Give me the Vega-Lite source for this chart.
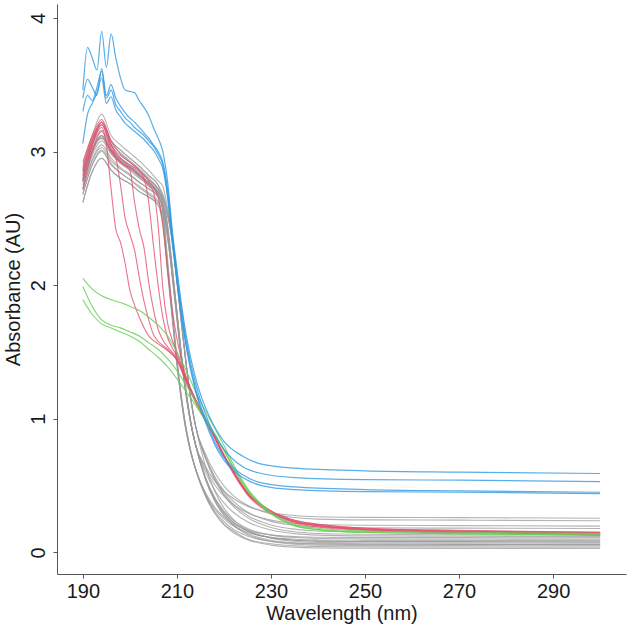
{
"$schema":"https://vega.github.io/schema/vega-lite/v6.json",
"width":569,"height":570,
"autosize":{"type":"none"},
"padding":{"left":57,"top":4,"right":9,"bottom":59},
"background":"white",
"config":{"view":{"stroke":null},"font":"Liberation Sans"},
"datasets":{
"grey":[
{"s":"g1","w":190,"a":2.62},{"s":"g1","w":192,"a":2.85},{"s":"g1","w":194,"a":2.95},{"s":"g1","w":196,"a":2.86},{"s":"g1","w":198,"a":2.80},{"s":"g1","w":200,"a":2.76},{"s":"g1","w":202,"a":2.70},{"s":"g1","w":204,"a":2.66},{"s":"g1","w":206,"a":2.60},{"s":"g1","w":207,"a":2.45},{"s":"g1","w":208,"a":2.10},{"s":"g1","w":209,"a":1.75},{"s":"g1","w":210,"a":1.40},{"s":"g1","w":211,"a":1.12},{"s":"g1","w":212,"a":0.90},{"s":"g1","w":213,"a":0.74},{"s":"g1","w":214,"a":0.62},{"s":"g1","w":216,"a":0.43},{"s":"g1","w":218,"a":0.30},{"s":"g1","w":220,"a":0.21},{"s":"g1","w":222,"a":0.16},{"s":"g1","w":225,"a":0.10},{"s":"g1","w":230,"a":0.064},{"s":"g1","w":235,"a":0.049},{"s":"g1","w":240,"a":0.043},{"s":"g1","w":250,"a":0.041},{"s":"g1","w":270,"a":0.04},{"s":"g1","w":300,"a":0.04},
{"s":"g2","w":190,"a":2.68},{"s":"g2","w":192,"a":2.90},{"s":"g2","w":194,"a":3.00},{"s":"g2","w":196,"a":2.90},{"s":"g2","w":198,"a":2.84},{"s":"g2","w":200,"a":2.79},{"s":"g2","w":202,"a":2.74},{"s":"g2","w":204,"a":2.69},{"s":"g2","w":206,"a":2.63},{"s":"g2","w":207,"a":2.48},{"s":"g2","w":208,"a":2.12},{"s":"g2","w":209,"a":1.77},{"s":"g2","w":210,"a":1.42},{"s":"g2","w":211,"a":1.13},{"s":"g2","w":212,"a":0.91},{"s":"g2","w":213,"a":0.74},{"s":"g2","w":214,"a":0.62},{"s":"g2","w":216,"a":0.435},{"s":"g2","w":218,"a":0.311},{"s":"g2","w":220,"a":0.229},{"s":"g2","w":222,"a":0.173},{"s":"g2","w":225,"a":0.122},{"s":"g2","w":230,"a":0.083},{"s":"g2","w":235,"a":0.068},{"s":"g2","w":240,"a":0.063},{"s":"g2","w":250,"a":0.061},{"s":"g2","w":270,"a":0.06},{"s":"g2","w":300,"a":0.058},
{"s":"g3","w":190,"a":2.72},{"s":"g3","w":192,"a":2.94},{"s":"g3","w":194,"a":3.05},{"s":"g3","w":196,"a":2.95},{"s":"g3","w":198,"a":2.88},{"s":"g3","w":200,"a":2.83},{"s":"g3","w":202,"a":2.77},{"s":"g3","w":204,"a":2.72},{"s":"g3","w":206,"a":2.66},{"s":"g3","w":207,"a":2.58},{"s":"g3","w":208,"a":2.40},{"s":"g3","w":209,"a":2.10},{"s":"g3","w":210,"a":1.78},{"s":"g3","w":211,"a":1.45},{"s":"g3","w":212,"a":1.18},{"s":"g3","w":213,"a":0.96},{"s":"g3","w":214,"a":0.80},{"s":"g3","w":216,"a":0.553},{"s":"g3","w":218,"a":0.387},{"s":"g3","w":220,"a":0.276},{"s":"g3","w":222,"a":0.202},{"s":"g3","w":225,"a":0.133},{"s":"g3","w":230,"a":0.081},{"s":"g3","w":235,"a":0.061},{"s":"g3","w":240,"a":0.054},{"s":"g3","w":250,"a":0.051},{"s":"g3","w":270,"a":0.05},{"s":"g3","w":300,"a":0.049},
{"s":"g4","w":190,"a":2.75},{"s":"g4","w":192,"a":2.97},{"s":"g4","w":194,"a":3.08},{"s":"g4","w":196,"a":2.98},{"s":"g4","w":198,"a":2.91},{"s":"g4","w":200,"a":2.86},{"s":"g4","w":202,"a":2.80},{"s":"g4","w":204,"a":2.75},{"s":"g4","w":206,"a":2.68},{"s":"g4","w":207,"a":2.60},{"s":"g4","w":208,"a":2.42},{"s":"g4","w":209,"a":2.12},{"s":"g4","w":210,"a":1.80},{"s":"g4","w":211,"a":1.47},{"s":"g4","w":212,"a":1.20},{"s":"g4","w":213,"a":0.97},{"s":"g4","w":214,"a":0.80},{"s":"g4","w":216,"a":0.562},{"s":"g4","w":218,"a":0.403},{"s":"g4","w":220,"a":0.297},{"s":"g4","w":222,"a":0.225},{"s":"g4","w":225,"a":0.16},{"s":"g4","w":230,"a":0.11},{"s":"g4","w":235,"a":0.091},{"s":"g4","w":240,"a":0.084},{"s":"g4","w":250,"a":0.081},{"s":"g4","w":270,"a":0.08},{"s":"g4","w":300,"a":0.078},
{"s":"g5","w":190,"a":2.78},{"s":"g5","w":192,"a":3.00},{"s":"g5","w":194,"a":3.12},{"s":"g5","w":196,"a":3.01},{"s":"g5","w":198,"a":2.94},{"s":"g5","w":200,"a":2.89},{"s":"g5","w":202,"a":2.83},{"s":"g5","w":204,"a":2.77},{"s":"g5","w":206,"a":2.70},{"s":"g5","w":207,"a":2.62},{"s":"g5","w":208,"a":2.38},{"s":"g5","w":209,"a":2.06},{"s":"g5","w":210,"a":1.74},{"s":"g5","w":211,"a":1.42},{"s":"g5","w":212,"a":1.16},{"s":"g5","w":213,"a":0.95},{"s":"g5","w":214,"a":0.80},{"s":"g5","w":216,"a":0.569},{"s":"g5","w":218,"a":0.414},{"s":"g5","w":220,"a":0.311},{"s":"g5","w":222,"a":0.241},{"s":"g5","w":225,"a":0.178},{"s":"g5","w":230,"a":0.129},{"s":"g5","w":235,"a":0.111},{"s":"g5","w":240,"a":0.104},{"s":"g5","w":250,"a":0.101},{"s":"g5","w":270,"a":0.10},{"s":"g5","w":300,"a":0.098},
{"s":"g6","w":190,"a":2.82},{"s":"g6","w":192,"a":3.04},{"s":"g6","w":194,"a":3.16},{"s":"g6","w":196,"a":3.04},{"s":"g6","w":198,"a":2.97},{"s":"g6","w":200,"a":2.92},{"s":"g6","w":202,"a":2.86},{"s":"g6","w":204,"a":2.79},{"s":"g6","w":206,"a":2.72},{"s":"g6","w":207,"a":2.68},{"s":"g6","w":208,"a":2.55},{"s":"g6","w":209,"a":2.35},{"s":"g6","w":210,"a":2.05},{"s":"g6","w":211,"a":1.72},{"s":"g6","w":212,"a":1.40},{"s":"g6","w":213,"a":1.14},{"s":"g6","w":214,"a":0.94},{"s":"g6","w":216,"a":0.653},{"s":"g6","w":218,"a":0.461},{"s":"g6","w":220,"a":0.332},{"s":"g6","w":222,"a":0.246},{"s":"g6","w":225,"a":0.167},{"s":"g6","w":230,"a":0.106},{"s":"g6","w":235,"a":0.083},{"s":"g6","w":240,"a":0.075},{"s":"g6","w":250,"a":0.071},{"s":"g6","w":270,"a":0.07},{"s":"g6","w":300,"a":0.069},
{"s":"g7","w":190,"a":2.86},{"s":"g7","w":192,"a":3.08},{"s":"g7","w":194,"a":3.22},{"s":"g7","w":196,"a":3.08},{"s":"g7","w":198,"a":3.01},{"s":"g7","w":200,"a":2.95},{"s":"g7","w":202,"a":2.89},{"s":"g7","w":204,"a":2.82},{"s":"g7","w":206,"a":2.75},{"s":"g7","w":207,"a":2.67},{"s":"g7","w":208,"a":2.44},{"s":"g7","w":209,"a":2.14},{"s":"g7","w":210,"a":1.80},{"s":"g7","w":211,"a":1.46},{"s":"g7","w":212,"a":1.18},{"s":"g7","w":213,"a":0.96},{"s":"g7","w":214,"a":0.80},{"s":"g7","w":216,"a":0.608},{"s":"g7","w":218,"a":0.469},{"s":"g7","w":220,"a":0.37},{"s":"g7","w":222,"a":0.30},{"s":"g7","w":225,"a":0.229},{"s":"g7","w":230,"a":0.167},{"s":"g7","w":235,"a":0.14},{"s":"g7","w":240,"a":0.129},{"s":"g7","w":250,"a":0.123},{"s":"g7","w":270,"a":0.121},{"s":"g7","w":300,"a":0.118},
{"s":"g8","w":190,"a":2.90},{"s":"g8","w":192,"a":3.12},{"s":"g8","w":194,"a":3.28},{"s":"g8","w":196,"a":3.12},{"s":"g8","w":198,"a":3.05},{"s":"g8","w":200,"a":2.99},{"s":"g8","w":202,"a":2.93},{"s":"g8","w":204,"a":2.86},{"s":"g8","w":206,"a":2.78},{"s":"g8","w":207,"a":2.74},{"s":"g8","w":208,"a":2.58},{"s":"g8","w":209,"a":2.36},{"s":"g8","w":210,"a":2.06},{"s":"g8","w":211,"a":1.72},{"s":"g8","w":212,"a":1.40},{"s":"g8","w":213,"a":1.14},{"s":"g8","w":214,"a":0.94},{"s":"g8","w":216,"a":0.716},{"s":"g8","w":218,"a":0.555},{"s":"g8","w":220,"a":0.441},{"s":"g8","w":222,"a":0.359},{"s":"g8","w":225,"a":0.276},{"s":"g8","w":230,"a":0.205},{"s":"g8","w":235,"a":0.174},{"s":"g8","w":240,"a":0.16},{"s":"g8","w":250,"a":0.154},{"s":"g8","w":270,"a":0.151},{"s":"g8","w":300,"a":0.148},
{"s":"g9","w":190,"a":2.80},{"s":"g9","w":192,"a":3.02},{"s":"g9","w":194,"a":3.10},{"s":"g9","w":196,"a":3.00},{"s":"g9","w":198,"a":2.93},{"s":"g9","w":200,"a":2.88},{"s":"g9","w":202,"a":2.82},{"s":"g9","w":204,"a":2.76},{"s":"g9","w":206,"a":2.69},{"s":"g9","w":207,"a":2.54},{"s":"g9","w":208,"a":2.16},{"s":"g9","w":209,"a":1.80},{"s":"g9","w":210,"a":1.44},{"s":"g9","w":211,"a":1.15},{"s":"g9","w":212,"a":0.92},{"s":"g9","w":213,"a":0.75},{"s":"g9","w":214,"a":0.62},{"s":"g9","w":216,"a":0.445},{"s":"g9","w":218,"a":0.328},{"s":"g9","w":220,"a":0.25},{"s":"g9","w":222,"a":0.197},{"s":"g9","w":225,"a":0.149},{"s":"g9","w":230,"a":0.112},{"s":"g9","w":235,"a":0.098},{"s":"g9","w":240,"a":0.093},{"s":"g9","w":250,"a":0.09},{"s":"g9","w":270,"a":0.09},{"s":"g9","w":300,"a":0.088},
{"s":"g10","w":190,"a":2.71},{"s":"g10","w":192,"a":2.93},{"s":"g10","w":194,"a":3.03},{"s":"g10","w":196,"a":2.93},{"s":"g10","w":198,"a":2.87},{"s":"g10","w":200,"a":2.82},{"s":"g10","w":202,"a":2.77},{"s":"g10","w":204,"a":2.72},{"s":"g10","w":206,"a":2.66},{"s":"g10","w":207,"a":2.58},{"s":"g10","w":208,"a":2.36},{"s":"g10","w":209,"a":2.08},{"s":"g10","w":210,"a":1.76},{"s":"g10","w":211,"a":1.44},{"s":"g10","w":212,"a":1.17},{"s":"g10","w":213,"a":0.96},{"s":"g10","w":214,"a":0.80},{"s":"g10","w":216,"a":0.63},{"s":"g10","w":218,"a":0.508},{"s":"g10","w":220,"a":0.421},{"s":"g10","w":222,"a":0.358},{"s":"g10","w":225,"a":0.296},{"s":"g10","w":230,"a":0.241},{"s":"g10","w":235,"a":0.218},{"s":"g10","w":240,"a":0.208},{"s":"g10","w":250,"a":0.203},{"s":"g10","w":270,"a":0.20},{"s":"g10","w":300,"a":0.196},
{"s":"g11","w":190,"a":2.68},{"s":"g11","w":192,"a":2.90},{"s":"g11","w":194,"a":3.01},{"s":"g11","w":196,"a":2.91},{"s":"g11","w":198,"a":2.84},{"s":"g11","w":200,"a":2.79},{"s":"g11","w":202,"a":2.73},{"s":"g11","w":204,"a":2.68},{"s":"g11","w":206,"a":2.62},{"s":"g11","w":207,"a":2.58},{"s":"g11","w":208,"a":2.52},{"s":"g11","w":209,"a":2.33},{"s":"g11","w":210,"a":2.04},{"s":"g11","w":211,"a":1.71},{"s":"g11","w":212,"a":1.40},{"s":"g11","w":213,"a":1.14},{"s":"g11","w":214,"a":0.94},{"s":"g11","w":216,"a":0.742},{"s":"g11","w":218,"a":0.599},{"s":"g11","w":220,"a":0.498},{"s":"g11","w":222,"a":0.425},{"s":"g11","w":225,"a":0.352},{"s":"g11","w":230,"a":0.288},{"s":"g11","w":235,"a":0.261},{"s":"g11","w":240,"a":0.249},{"s":"g11","w":250,"a":0.243},{"s":"g11","w":270,"a":0.241},{"s":"g11","w":300,"a":0.237},
{"s":"g12","w":190,"a":2.79},{"s":"g12","w":192,"a":3.01},{"s":"g12","w":194,"a":3.12},{"s":"g12","w":196,"a":3.02},{"s":"g12","w":198,"a":2.95},{"s":"g12","w":200,"a":2.90},{"s":"g12","w":202,"a":2.84},{"s":"g12","w":204,"a":2.79},{"s":"g12","w":206,"a":2.72},{"s":"g12","w":207,"a":2.56},{"s":"g12","w":208,"a":2.14},{"s":"g12","w":209,"a":1.78},{"s":"g12","w":210,"a":1.42},{"s":"g12","w":211,"a":1.13},{"s":"g12","w":212,"a":0.90},{"s":"g12","w":213,"a":0.74},{"s":"g12","w":214,"a":0.62},{"s":"g12","w":216,"a":0.425},{"s":"g12","w":218,"a":0.295},{"s":"g12","w":220,"a":0.208},{"s":"g12","w":222,"a":0.149},{"s":"g12","w":225,"a":0.095},{"s":"g12","w":230,"a":0.054},{"s":"g12","w":235,"a":0.039},{"s":"g12","w":240,"a":0.033},{"s":"g12","w":250,"a":0.031},{"s":"g12","w":270,"a":0.03},{"s":"g12","w":300,"a":0.03},
{"s":"g13","w":190,"a":2.78},{"s":"g13","w":192,"a":3.00},{"s":"g13","w":194,"a":3.12},{"s":"g13","w":196,"a":3.01},{"s":"g13","w":198,"a":2.94},{"s":"g13","w":200,"a":2.89},{"s":"g13","w":202,"a":2.83},{"s":"g13","w":204,"a":2.77},{"s":"g13","w":206,"a":2.70},{"s":"g13","w":207,"a":2.66},{"s":"g13","w":208,"a":2.54},{"s":"g13","w":209,"a":2.34},{"s":"g13","w":210,"a":2.04},{"s":"g13","w":211,"a":1.71},{"s":"g13","w":212,"a":1.40},{"s":"g13","w":213,"a":1.14},{"s":"g13","w":214,"a":0.94},{"s":"g13","w":216,"a":0.725},{"s":"g13","w":218,"a":0.57},{"s":"g13","w":220,"a":0.46},{"s":"g13","w":222,"a":0.381},{"s":"g13","w":225,"a":0.302},{"s":"g13","w":230,"a":0.232},{"s":"g13","w":235,"a":0.203},{"s":"g13","w":240,"a":0.19},{"s":"g13","w":250,"a":0.184},{"s":"g13","w":270,"a":0.181},{"s":"g13","w":300,"a":0.178},
{"s":"g14","w":190,"a":2.77},{"s":"g14","w":192,"a":2.99},{"s":"g14","w":194,"a":3.11},{"s":"g14","w":196,"a":2.99},{"s":"g14","w":198,"a":2.92},{"s":"g14","w":200,"a":2.87},{"s":"g14","w":202,"a":2.81},{"s":"g14","w":204,"a":2.74},{"s":"g14","w":206,"a":2.67},{"s":"g14","w":207,"a":2.59},{"s":"g14","w":208,"a":2.42},{"s":"g14","w":209,"a":2.10},{"s":"g14","w":210,"a":1.78},{"s":"g14","w":211,"a":1.45},{"s":"g14","w":212,"a":1.18},{"s":"g14","w":213,"a":0.96},{"s":"g14","w":214,"a":0.80},{"s":"g14","w":216,"a":0.556},{"s":"g14","w":218,"a":0.392},{"s":"g14","w":220,"a":0.283},{"s":"g14","w":222,"a":0.209},{"s":"g14","w":225,"a":0.142},{"s":"g14","w":230,"a":0.09},{"s":"g14","w":235,"a":0.071},{"s":"g14","w":240,"a":0.064},{"s":"g14","w":250,"a":0.061},{"s":"g14","w":270,"a":0.06},{"s":"g14","w":300,"a":0.059},
{"s":"g15","w":190,"a":2.86},{"s":"g15","w":192,"a":3.08},{"s":"g15","w":194,"a":3.22},{"s":"g15","w":196,"a":3.08},{"s":"g15","w":198,"a":3.01},{"s":"g15","w":200,"a":2.95},{"s":"g15","w":202,"a":2.89},{"s":"g15","w":204,"a":2.82},{"s":"g15","w":206,"a":2.75},{"s":"g15","w":207,"a":2.60},{"s":"g15","w":208,"a":2.20},{"s":"g15","w":209,"a":1.82},{"s":"g15","w":210,"a":1.45},{"s":"g15","w":211,"a":1.15},{"s":"g15","w":212,"a":0.92},{"s":"g15","w":213,"a":0.75},{"s":"g15","w":214,"a":0.62},{"s":"g15","w":216,"a":0.452},{"s":"g15","w":218,"a":0.339},{"s":"g15","w":220,"a":0.264},{"s":"g15","w":222,"a":0.213},{"s":"g15","w":225,"a":0.167},{"s":"g15","w":230,"a":0.131},{"s":"g15","w":235,"a":0.118},{"s":"g15","w":240,"a":0.113},{"s":"g15","w":250,"a":0.111},{"s":"g15","w":270,"a":0.11},{"s":"g15","w":300,"a":0.108},
{"s":"g16","w":190,"a":2.62},{"s":"g16","w":192,"a":2.85},{"s":"g16","w":194,"a":2.95},{"s":"g16","w":196,"a":2.86},{"s":"g16","w":198,"a":2.80},{"s":"g16","w":200,"a":2.76},{"s":"g16","w":202,"a":2.70},{"s":"g16","w":204,"a":2.66},{"s":"g16","w":206,"a":2.60},{"s":"g16","w":207,"a":2.53},{"s":"g16","w":208,"a":2.36},{"s":"g16","w":209,"a":2.08},{"s":"g16","w":210,"a":1.76},{"s":"g16","w":211,"a":1.44},{"s":"g16","w":212,"a":1.17},{"s":"g16","w":213,"a":0.96},{"s":"g16","w":214,"a":0.80},{"s":"g16","w":216,"a":0.647},{"s":"g16","w":218,"a":0.537},{"s":"g16","w":220,"a":0.459},{"s":"g16","w":222,"a":0.403},{"s":"g16","w":225,"a":0.346},{"s":"g16","w":230,"a":0.297},{"s":"g16","w":235,"a":0.276},{"s":"g16","w":240,"a":0.267},{"s":"g16","w":250,"a":0.262},{"s":"g16","w":270,"a":0.26},{"s":"g16","w":300,"a":0.255},
{"s":"g17","w":190,"a":2.84},{"s":"g17","w":192,"a":3.06},{"s":"g17","w":194,"a":3.22},{"s":"g17","w":196,"a":3.06},{"s":"g17","w":198,"a":2.99},{"s":"g17","w":200,"a":2.93},{"s":"g17","w":202,"a":2.87},{"s":"g17","w":204,"a":2.80},{"s":"g17","w":206,"a":2.72},{"s":"g17","w":207,"a":2.64},{"s":"g17","w":208,"a":2.46},{"s":"g17","w":209,"a":2.14},{"s":"g17","w":210,"a":1.80},{"s":"g17","w":211,"a":1.46},{"s":"g17","w":212,"a":1.18},{"s":"g17","w":213,"a":0.96},{"s":"g17","w":214,"a":0.80},{"s":"g17","w":216,"a":0.562},{"s":"g17","w":218,"a":0.403},{"s":"g17","w":220,"a":0.297},{"s":"g17","w":222,"a":0.225},{"s":"g17","w":225,"a":0.16},{"s":"g17","w":230,"a":0.11},{"s":"g17","w":235,"a":0.091},{"s":"g17","w":240,"a":0.084},{"s":"g17","w":250,"a":0.081},{"s":"g17","w":270,"a":0.08},{"s":"g17","w":300,"a":0.078},
{"s":"g18","w":190,"a":2.80},{"s":"g18","w":192,"a":3.02},{"s":"g18","w":194,"a":3.10},{"s":"g18","w":196,"a":3.00},{"s":"g18","w":198,"a":2.93},{"s":"g18","w":200,"a":2.88},{"s":"g18","w":202,"a":2.82},{"s":"g18","w":204,"a":2.76},{"s":"g18","w":206,"a":2.69},{"s":"g18","w":207,"a":2.65},{"s":"g18","w":208,"a":2.53},{"s":"g18","w":209,"a":2.33},{"s":"g18","w":210,"a":2.03},{"s":"g18","w":211,"a":1.70},{"s":"g18","w":212,"a":1.39},{"s":"g18","w":213,"a":1.13},{"s":"g18","w":214,"a":0.94},{"s":"g18","w":216,"a":0.711},{"s":"g18","w":218,"a":0.546},{"s":"g18","w":220,"a":0.428},{"s":"g18","w":222,"a":0.344},{"s":"g18","w":225,"a":0.26},{"s":"g18","w":230,"a":0.186},{"s":"g18","w":235,"a":0.154},{"s":"g18","w":240,"a":0.141},{"s":"g18","w":250,"a":0.135},{"s":"g18","w":270,"a":0.131},{"s":"g18","w":300,"a":0.128}
],
"red":[
{"s":"r1","w":190,"a":2.78},{"s":"r1","w":192,"a":3.05},{"s":"r1","w":194,"a":3.18},{"s":"r1","w":195,"a":3.05},{"s":"r1","w":196,"a":2.72},{"s":"r1","w":197,"a":2.42},{"s":"r1","w":198,"a":2.32},{"s":"r1","w":199,"a":2.16},{"s":"r1","w":200,"a":1.96},{"s":"r1","w":201,"a":1.85},{"s":"r1","w":202,"a":1.76},{"s":"r1","w":204,"a":1.62},{"s":"r1","w":206,"a":1.56},{"s":"r1","w":208,"a":1.51},{"s":"r1","w":210,"a":1.44},{"s":"r1","w":212,"a":1.27},{"s":"r1","w":214,"a":1.12},{"s":"r1","w":216,"a":0.99},{"s":"r1","w":218,"a":0.86},{"s":"r1","w":220,"a":0.72},{"s":"r1","w":222,"a":0.60},{"s":"r1","w":225,"a":0.44},{"s":"r1","w":230,"a":0.30},{"s":"r1","w":235,"a":0.23},{"s":"r1","w":240,"a":0.20},{"s":"r1","w":250,"a":0.175},{"s":"r1","w":270,"a":0.16},{"s":"r1","w":300,"a":0.14},
{"s":"r2","w":190,"a":2.85},{"s":"r2","w":192,"a":3.08},{"s":"r2","w":194,"a":3.20},{"s":"r2","w":196,"a":3.05},{"s":"r2","w":197,"a":2.96},{"s":"r2","w":198,"a":2.75},{"s":"r2","w":199,"a":2.50},{"s":"r2","w":200,"a":2.38},{"s":"r2","w":201,"a":2.26},{"s":"r2","w":202,"a":2.06},{"s":"r2","w":203,"a":1.88},{"s":"r2","w":204,"a":1.74},{"s":"r2","w":205,"a":1.63},{"s":"r2","w":206,"a":1.58},{"s":"r2","w":208,"a":1.52},{"s":"r2","w":210,"a":1.44},{"s":"r2","w":212,"a":1.28},{"s":"r2","w":214,"a":1.13},{"s":"r2","w":216,"a":1.00},{"s":"r2","w":218,"a":0.87},{"s":"r2","w":220,"a":0.73},{"s":"r2","w":222,"a":0.61},{"s":"r2","w":225,"a":0.45},{"s":"r2","w":230,"a":0.31},{"s":"r2","w":235,"a":0.24},{"s":"r2","w":240,"a":0.21},{"s":"r2","w":250,"a":0.18},{"s":"r2","w":270,"a":0.165},{"s":"r2","w":300,"a":0.15},
{"s":"r3","w":190,"a":2.72},{"s":"r3","w":192,"a":3.00},{"s":"r3","w":194,"a":3.15},{"s":"r3","w":196,"a":3.00},{"s":"r3","w":198,"a":2.92},{"s":"r3","w":200,"a":2.86},{"s":"r3","w":201,"a":2.62},{"s":"r3","w":202,"a":2.42},{"s":"r3","w":203,"a":2.28},{"s":"r3","w":204,"a":2.02},{"s":"r3","w":205,"a":1.82},{"s":"r3","w":206,"a":1.67},{"s":"r3","w":207,"a":1.59},{"s":"r3","w":208,"a":1.54},{"s":"r3","w":210,"a":1.45},{"s":"r3","w":212,"a":1.29},{"s":"r3","w":214,"a":1.14},{"s":"r3","w":216,"a":1.00},{"s":"r3","w":218,"a":0.86},{"s":"r3","w":220,"a":0.72},{"s":"r3","w":222,"a":0.60},{"s":"r3","w":225,"a":0.44},{"s":"r3","w":230,"a":0.30},{"s":"r3","w":235,"a":0.23},{"s":"r3","w":240,"a":0.20},{"s":"r3","w":250,"a":0.17},{"s":"r3","w":270,"a":0.155},{"s":"r3","w":300,"a":0.14},
{"s":"r4","w":190,"a":2.88},{"s":"r4","w":192,"a":3.10},{"s":"r4","w":194,"a":3.22},{"s":"r4","w":196,"a":3.05},{"s":"r4","w":198,"a":2.95},{"s":"r4","w":200,"a":2.90},{"s":"r4","w":202,"a":2.85},{"s":"r4","w":203,"a":2.80},{"s":"r4","w":204,"a":2.62},{"s":"r4","w":205,"a":2.30},{"s":"r4","w":206,"a":2.00},{"s":"r4","w":207,"a":1.76},{"s":"r4","w":208,"a":1.61},{"s":"r4","w":209,"a":1.53},{"s":"r4","w":210,"a":1.47},{"s":"r4","w":212,"a":1.30},{"s":"r4","w":214,"a":1.14},{"s":"r4","w":216,"a":1.01},{"s":"r4","w":218,"a":0.87},{"s":"r4","w":220,"a":0.73},{"s":"r4","w":222,"a":0.61},{"s":"r4","w":225,"a":0.45},{"s":"r4","w":230,"a":0.31},{"s":"r4","w":235,"a":0.24},{"s":"r4","w":240,"a":0.21},{"s":"r4","w":250,"a":0.18},{"s":"r4","w":270,"a":0.16},{"s":"r4","w":300,"a":0.15},
{"s":"r5","w":190,"a":2.82},{"s":"r5","w":192,"a":3.05},{"s":"r5","w":194,"a":3.20},{"s":"r5","w":196,"a":3.02},{"s":"r5","w":198,"a":2.92},{"s":"r5","w":200,"a":2.88},{"s":"r5","w":202,"a":2.82},{"s":"r5","w":204,"a":2.75},{"s":"r5","w":205,"a":2.70},{"s":"r5","w":206,"a":2.45},{"s":"r5","w":207,"a":1.98},{"s":"r5","w":208,"a":1.72},{"s":"r5","w":209,"a":1.59},{"s":"r5","w":210,"a":1.50},{"s":"r5","w":212,"a":1.30},{"s":"r5","w":214,"a":1.14},{"s":"r5","w":216,"a":1.00},{"s":"r5","w":218,"a":0.86},{"s":"r5","w":220,"a":0.72},{"s":"r5","w":222,"a":0.60},{"s":"r5","w":225,"a":0.44},{"s":"r5","w":230,"a":0.30},{"s":"r5","w":235,"a":0.23},{"s":"r5","w":240,"a":0.20},{"s":"r5","w":250,"a":0.17},{"s":"r5","w":270,"a":0.15},{"s":"r5","w":300,"a":0.13},
{"s":"r6","w":190,"a":2.92},{"s":"r6","w":192,"a":3.12},{"s":"r6","w":194,"a":3.24},{"s":"r6","w":196,"a":3.08},{"s":"r6","w":198,"a":2.98},{"s":"r6","w":200,"a":2.92},{"s":"r6","w":202,"a":2.86},{"s":"r6","w":204,"a":2.78},{"s":"r6","w":206,"a":2.66},{"s":"r6","w":207,"a":2.45},{"s":"r6","w":208,"a":2.12},{"s":"r6","w":209,"a":1.82},{"s":"r6","w":210,"a":1.60},{"s":"r6","w":211,"a":1.44},{"s":"r6","w":212,"a":1.31},{"s":"r6","w":214,"a":1.14},{"s":"r6","w":216,"a":1.00},{"s":"r6","w":218,"a":0.86},{"s":"r6","w":220,"a":0.72},{"s":"r6","w":222,"a":0.59},{"s":"r6","w":225,"a":0.43},{"s":"r6","w":230,"a":0.29},{"s":"r6","w":235,"a":0.22},{"s":"r6","w":240,"a":0.19},{"s":"r6","w":250,"a":0.165},{"s":"r6","w":270,"a":0.15},{"s":"r6","w":300,"a":0.13}
],
"green":[
{"s":"n1","w":190,"a":2.05},{"s":"n1","w":192,"a":1.97},{"s":"n1","w":194,"a":1.92},{"s":"n1","w":196,"a":1.89},{"s":"n1","w":198,"a":1.87},{"s":"n1","w":200,"a":1.84},{"s":"n1","w":202,"a":1.81},{"s":"n1","w":204,"a":1.76},{"s":"n1","w":206,"a":1.70},{"s":"n1","w":208,"a":1.62},{"s":"n1","w":210,"a":1.50},{"s":"n1","w":212,"a":1.36},{"s":"n1","w":214,"a":1.20},{"s":"n1","w":216,"a":1.06},{"s":"n1","w":218,"a":0.93},{"s":"n1","w":220,"a":0.80},{"s":"n1","w":222,"a":0.66},{"s":"n1","w":225,"a":0.48},{"s":"n1","w":230,"a":0.30},{"s":"n1","w":235,"a":0.21},{"s":"n1","w":240,"a":0.18},{"s":"n1","w":250,"a":0.16},{"s":"n1","w":270,"a":0.15},{"s":"n1","w":300,"a":0.14},
{"s":"n2","w":190,"a":1.99},{"s":"n2","w":192,"a":1.84},{"s":"n2","w":194,"a":1.74},{"s":"n2","w":196,"a":1.70},{"s":"n2","w":198,"a":1.68},{"s":"n2","w":200,"a":1.65},{"s":"n2","w":202,"a":1.62},{"s":"n2","w":204,"a":1.57},{"s":"n2","w":206,"a":1.52},{"s":"n2","w":208,"a":1.45},{"s":"n2","w":210,"a":1.36},{"s":"n2","w":212,"a":1.25},{"s":"n2","w":214,"a":1.13},{"s":"n2","w":216,"a":1.01},{"s":"n2","w":218,"a":0.89},{"s":"n2","w":220,"a":0.77},{"s":"n2","w":222,"a":0.64},{"s":"n2","w":225,"a":0.47},{"s":"n2","w":230,"a":0.29},{"s":"n2","w":235,"a":0.20},{"s":"n2","w":240,"a":0.17},{"s":"n2","w":250,"a":0.15},{"s":"n2","w":270,"a":0.14},{"s":"n2","w":300,"a":0.13},
{"s":"n3","w":190,"a":1.89},{"s":"n3","w":192,"a":1.78},{"s":"n3","w":194,"a":1.71},{"s":"n3","w":196,"a":1.68},{"s":"n3","w":198,"a":1.65},{"s":"n3","w":200,"a":1.62},{"s":"n3","w":202,"a":1.58},{"s":"n3","w":204,"a":1.52},{"s":"n3","w":206,"a":1.46},{"s":"n3","w":208,"a":1.39},{"s":"n3","w":210,"a":1.30},{"s":"n3","w":212,"a":1.20},{"s":"n3","w":214,"a":1.10},{"s":"n3","w":216,"a":0.99},{"s":"n3","w":218,"a":0.88},{"s":"n3","w":220,"a":0.76},{"s":"n3","w":222,"a":0.63},{"s":"n3","w":225,"a":0.46},{"s":"n3","w":230,"a":0.29},{"s":"n3","w":235,"a":0.20},{"s":"n3","w":240,"a":0.17},{"s":"n3","w":250,"a":0.15},{"s":"n3","w":270,"a":0.14},{"s":"n3","w":300,"a":0.13}
],
"blue":[
{"s":"b1","w":190,"a":3.46},{"s":"b1","w":191,"a":3.78},{"s":"b1","w":192,"a":3.70},{"s":"b1","w":193,"a":3.61},{"s":"b1","w":194,"a":3.90},{"s":"b1","w":195,"a":3.63},{"s":"b1","w":196,"a":3.88},{"s":"b1","w":197,"a":3.70},{"s":"b1","w":198,"a":3.55},{"s":"b1","w":199,"a":3.46},{"s":"b1","w":200,"a":3.45},{"s":"b1","w":201,"a":3.44},{"s":"b1","w":202,"a":3.38},{"s":"b1","w":203,"a":3.33},{"s":"b1","w":204,"a":3.27},{"s":"b1","w":205,"a":3.18},{"s":"b1","w":206,"a":3.10},{"s":"b1","w":207,"a":3.00},{"s":"b1","w":208,"a":2.78},{"s":"b1","w":209,"a":2.42},{"s":"b1","w":210,"a":2.12},{"s":"b1","w":212,"a":1.62},{"s":"b1","w":214,"a":1.30},{"s":"b1","w":216,"a":1.09},{"s":"b1","w":218,"a":0.94},{"s":"b1","w":220,"a":0.83},{"s":"b1","w":224,"a":0.72},{"s":"b1","w":228,"a":0.66},{"s":"b1","w":235,"a":0.63},{"s":"b1","w":250,"a":0.61},{"s":"b1","w":270,"a":0.60},{"s":"b1","w":300,"a":0.59},
{"s":"b2","w":190,"a":3.40},{"s":"b2","w":191,"a":3.54},{"s":"b2","w":192,"a":3.48},{"s":"b2","w":193,"a":3.42},{"s":"b2","w":194,"a":3.62},{"s":"b2","w":195,"a":3.42},{"s":"b2","w":196,"a":3.50},{"s":"b2","w":197,"a":3.40},{"s":"b2","w":198,"a":3.34},{"s":"b2","w":199,"a":3.29},{"s":"b2","w":200,"a":3.25},{"s":"b2","w":201,"a":3.22},{"s":"b2","w":202,"a":3.18},{"s":"b2","w":203,"a":3.14},{"s":"b2","w":204,"a":3.10},{"s":"b2","w":205,"a":3.05},{"s":"b2","w":206,"a":3.00},{"s":"b2","w":207,"a":2.92},{"s":"b2","w":208,"a":2.72},{"s":"b2","w":209,"a":2.38},{"s":"b2","w":210,"a":2.08},{"s":"b2","w":212,"a":1.58},{"s":"b2","w":214,"a":1.26},{"s":"b2","w":216,"a":1.04},{"s":"b2","w":218,"a":0.88},{"s":"b2","w":220,"a":0.77},{"s":"b2","w":224,"a":0.64},{"s":"b2","w":228,"a":0.59},{"s":"b2","w":235,"a":0.56},{"s":"b2","w":250,"a":0.545},{"s":"b2","w":270,"a":0.54},{"s":"b2","w":300,"a":0.53},
{"s":"b3","w":190,"a":3.30},{"s":"b3","w":191,"a":3.42},{"s":"b3","w":192,"a":3.38},{"s":"b3","w":193,"a":3.48},{"s":"b3","w":194,"a":3.60},{"s":"b3","w":195,"a":3.40},{"s":"b3","w":196,"a":3.46},{"s":"b3","w":197,"a":3.35},{"s":"b3","w":198,"a":3.30},{"s":"b3","w":199,"a":3.25},{"s":"b3","w":200,"a":3.22},{"s":"b3","w":201,"a":3.18},{"s":"b3","w":202,"a":3.15},{"s":"b3","w":203,"a":3.12},{"s":"b3","w":204,"a":3.08},{"s":"b3","w":205,"a":3.04},{"s":"b3","w":206,"a":2.98},{"s":"b3","w":207,"a":2.90},{"s":"b3","w":208,"a":2.69},{"s":"b3","w":209,"a":2.35},{"s":"b3","w":210,"a":2.05},{"s":"b3","w":212,"a":1.55},{"s":"b3","w":214,"a":1.22},{"s":"b3","w":216,"a":1.00},{"s":"b3","w":218,"a":0.83},{"s":"b3","w":220,"a":0.71},{"s":"b3","w":224,"a":0.58},{"s":"b3","w":228,"a":0.52},{"s":"b3","w":235,"a":0.49},{"s":"b3","w":250,"a":0.47},{"s":"b3","w":270,"a":0.46},{"s":"b3","w":300,"a":0.45},
{"s":"b4","w":190,"a":3.06},{"s":"b4","w":191,"a":3.28},{"s":"b4","w":192,"a":3.36},{"s":"b4","w":193,"a":3.44},{"s":"b4","w":194,"a":3.55},{"s":"b4","w":195,"a":3.36},{"s":"b4","w":196,"a":3.41},{"s":"b4","w":197,"a":3.31},{"s":"b4","w":198,"a":3.26},{"s":"b4","w":199,"a":3.21},{"s":"b4","w":200,"a":3.18},{"s":"b4","w":201,"a":3.15},{"s":"b4","w":202,"a":3.12},{"s":"b4","w":203,"a":3.09},{"s":"b4","w":204,"a":3.05},{"s":"b4","w":205,"a":3.01},{"s":"b4","w":206,"a":2.95},{"s":"b4","w":207,"a":2.87},{"s":"b4","w":208,"a":2.66},{"s":"b4","w":209,"a":2.32},{"s":"b4","w":210,"a":2.02},{"s":"b4","w":212,"a":1.53},{"s":"b4","w":214,"a":1.20},{"s":"b4","w":216,"a":0.98},{"s":"b4","w":218,"a":0.81},{"s":"b4","w":220,"a":0.69},{"s":"b4","w":224,"a":0.56},{"s":"b4","w":228,"a":0.50},{"s":"b4","w":235,"a":0.47},{"s":"b4","w":250,"a":0.455},{"s":"b4","w":270,"a":0.45},{"s":"b4","w":300,"a":0.44}
]
},
"encoding":{
"x":{"field":"w","type":"quantitative","scale":{"domain":[184.5,305.5],"nice":false,"zero":false},
"axis":{"title":"Wavelength (nm)","values":[190,210,230,250,270,290],"grid":false,"domainColor":"#555555","tickColor":"#555555","tickSize":4,"labelFontSize":20,"labelColor":"#1a1a1a","labelFont":"Liberation Sans","labelPadding":3,"titleFont":"Liberation Sans","titleFontSize":20,"titleFontWeight":"normal","titleColor":"#1a1a1a","titlePadding":2}},
"y":{"field":"a","type":"quantitative","scale":{"domain":[-0.162,4.104],"nice":false,"zero":false},
"axis":{"title":"Absorbance (AU)","values":[0,1,2,3,4],"grid":false,"domainColor":"#555555","tickColor":"#555555","tickSize":4,"labelFontSize":20,"labelColor":"#1a1a1a","labelFont":"Liberation Sans","labelAngle":-90,"labelAlign":"center","labelBaseline":"bottom","labelPadding":5,"titleFont":"Liberation Sans","titleFontSize":20,"titleFontWeight":"normal","titleColor":"#1a1a1a","titlePadding":5,
"encode":{"labels":{"update":{"angle":{"value":-90},"align":{"value":"center"},"baseline":{"value":"bottom"}}}}}}
},
"layer":[
{"data":{"name":"grey"},"mark":{"type":"line","color":"#9a9a9a","strokeWidth":1.1,"opacity":0.75,"interpolate":"monotone"},"encoding":{"detail":{"field":"s"}}},
{"data":{"name":"red"},"mark":{"type":"line","color":"#e4506f","strokeWidth":1.1,"opacity":0.8,"interpolate":"monotone"},"encoding":{"detail":{"field":"s"}}},
{"data":{"name":"green"},"mark":{"type":"line","color":"#68cf58","strokeWidth":1.1,"opacity":0.85,"interpolate":"monotone"},"encoding":{"detail":{"field":"s"}}},
{"data":{"name":"blue"},"mark":{"type":"line","color":"#2f98e2","strokeWidth":1.2,"opacity":0.8,"interpolate":"monotone"},"encoding":{"detail":{"field":"s"}}}
]
}
